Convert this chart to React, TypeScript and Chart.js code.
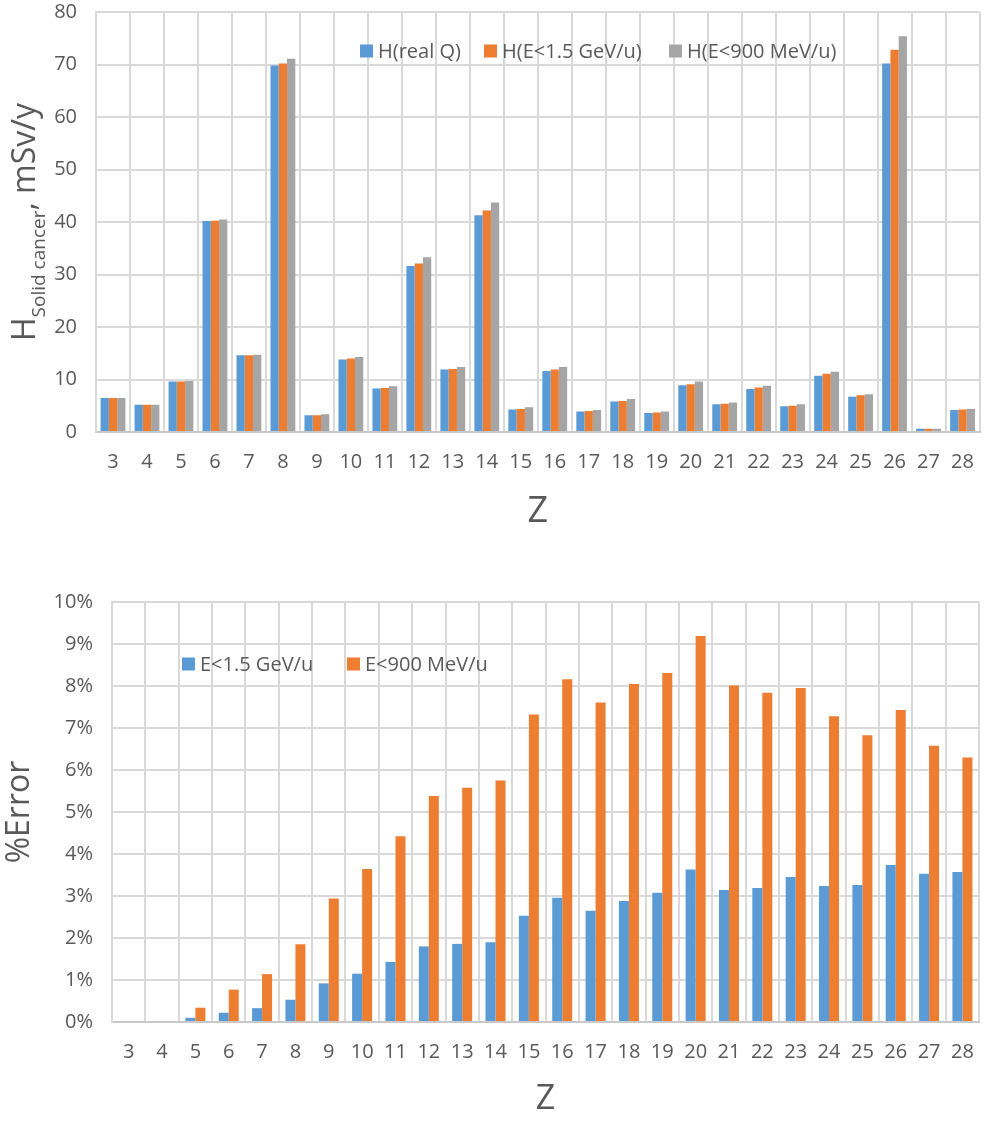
import React, { useEffect, useRef } from "react";
import { Chart, registerables } from "chart.js";

Chart.register(...registerables);

// ---------- data ----------
const zLabels = ["3", "4", "5", "6", "7", "8", "9", "10", "11", "12", "13", "14", "15", "16", "17", "18", "19", "20", "21", "22", "23", "24", "25", "26", "27", "28"];

const hRealQ = [6.5, 5.2, 9.6, 40.2, 14.6, 69.8, 3.2, 13.8, 8.3, 31.6, 11.9, 41.3, 4.3, 11.6, 3.9, 5.8, 3.6, 8.9, 5.3, 8.2, 4.9, 10.7, 6.7, 70.2, 0.6, 4.2];
const hE15 = [6.5, 5.2, 9.6, 40.25, 14.6, 70.2, 3.2, 14.0, 8.4, 32.1, 12.0, 42.2, 4.4, 11.9, 4.0, 5.9, 3.7, 9.1, 5.4, 8.5, 5.0, 11.1, 7.0, 72.8, 0.6, 4.3];
const hE900 = [6.5, 5.2, 9.7, 40.5, 14.7, 71.1, 3.4, 14.3, 8.7, 33.3, 12.4, 43.7, 4.7, 12.4, 4.2, 6.3, 3.9, 9.6, 5.6, 8.8, 5.3, 11.5, 7.2, 75.4, 0.6, 4.4];
const hYTicks = [0, 10, 20, 30, 40, 50, 60, 70, 80];

const errE15 = [0, 0, 0.1, 0.22, 0.33, 0.53, 0.92, 1.15, 1.43, 1.8, 1.86, 1.9, 2.53, 2.96, 2.65, 2.88, 3.08, 3.63, 3.14, 3.19, 3.45, 3.24, 3.26, 3.74, 3.53, 3.57];
const errE900 = [0, 0, 0.34, 0.77, 1.14, 1.85, 2.94, 3.64, 4.42, 5.38, 5.58, 5.75, 7.32, 8.16, 7.61, 8.05, 8.31, 9.19, 8.01, 7.84, 7.95, 7.28, 6.83, 7.43, 6.58, 6.3];
const errYTicks = [0, 1, 2, 3, 4, 5, 6, 7, 8, 9, 10];

// ---------- style ----------
const FONT = "'Open Sans', 'Noto Sans', sans-serif";
const BLUE = "#5b9bd5";
const ORANGE = "#ed7d31";
const GRAY = "#a5a5a5";
const TEXT = "#595959";
const GRID = "#d9d9d9";
const AXIS = "#c8c8c8";

Chart.defaults.font.family = FONT;
Chart.defaults.color = TEXT;

const boxLegend = {
  id: "boxLegend",
  afterDatasetsDraw(chart: any, _args: any, opts: any) {
    const { ctx } = chart;
    ctx.save();
    ctx.font = `${opts.fontSize}px ${FONT}`;
    ctx.textBaseline = "middle";
    ctx.textAlign = "left";
    chart.data.datasets.forEach((ds: any, i: number) => {
      const x = opts.xs[i];
      ctx.fillStyle = ds.backgroundColor;
      ctx.fillRect(x, opts.y - opts.box / 2, opts.box, opts.box);
      ctx.fillStyle = TEXT;
      ctx.fillText(ds.label, x + opts.box + opts.gap, opts.y + 1);
    });
    ctx.restore();
  },
};

const subTitle = {
  id: "subTitle",
  afterDraw(chart: any, _args: any, opts: any) {
    if (!opts || !opts.main) return;
    const { ctx, chartArea } = chart;
    const cy = (chartArea.top + chartArea.bottom) / 2;
    const mainF = `${opts.mainSize}px ${FONT}`;
    const subF = `${opts.subSize}px ${FONT}`;
    ctx.save();
    ctx.font = mainF;
    const w1 = ctx.measureText(opts.main).width;
    const w3 = ctx.measureText(opts.after).width;
    ctx.font = subF;
    const w2 = ctx.measureText(opts.sub).width;
    const total = w1 + w2 + w3;
    ctx.translate(opts.x, cy);
    ctx.rotate(-Math.PI / 2);
    ctx.fillStyle = TEXT;
    ctx.textBaseline = "alphabetic";
    ctx.textAlign = "left";
    let x = -total / 2;
    ctx.font = mainF;
    ctx.fillText(opts.main, x, 0);
    x += w1;
    ctx.font = subF;
    ctx.fillText(opts.sub, x, opts.subShift);
    x += w2;
    ctx.font = mainF;
    ctx.fillText(opts.after, x, 0);
    ctx.restore();
  },
};

// top canvas is shifted up by TOP_SHIFT so that the plot area starts at y=12
const TOP_SHIFT = 20;

function topConfig(): any {
  return {
    type: "bar",
    data: {
      labels: zLabels,
      datasets: [
        { label: "H(real Q)", data: hRealQ, backgroundColor: BLUE },
        { label: "H(E<1.5 GeV/u)", data: hE15, backgroundColor: ORANGE },
        { label: "H(E<900 MeV/u)", data: hE900, backgroundColor: GRAY },
      ],
    },
    plugins: [boxLegend, subTitle],
    options: {
      responsive: false,
      animation: false,
      devicePixelRatio: 1,
      layout: { padding: { top: 12 + TOP_SHIFT, right: 2, left: 0, bottom: 0 }, autoPadding: false },
      datasets: { bar: { categoryPercentage: 0.73, barPercentage: 1.0, borderWidth: 0 } },
      plugins: {
        legend: { display: false },
        tooltip: { enabled: false },
        boxLegend: { xs: [360, 484, 669], y: 51 + TOP_SHIFT, box: 13, gap: 5, fontSize: 20 },
        subTitle: { main: "H", sub: "Solid cancer", after: ", mSv/y", mainSize: 32, subSize: 19, subShift: 10, x: 35 },
      },
      scales: {
        x: {
          grid: { color: GRID, lineWidth: 2, drawTicks: false, offset: true },
          border: { color: AXIS, width: 2 },
          ticks: { font: { size: 20 }, color: TEXT, padding: 18, maxRotation: 0, autoSkip: false },
          title: { display: true, text: "Z", font: { size: 36 }, color: TEXT, padding: { top: 0, bottom: 7 } },
          afterFit: (s: any) => { s.height = 108; },
        },
        y: {
          min: 0,
          max: 80,
          grid: { color: GRID, lineWidth: 2, drawTicks: false },
          border: { color: GRID, width: 2 },
          ticks: { font: { size: 20 }, color: TEXT, padding: 19 },
          afterBuildTicks: (s: any) => { s.ticks = hYTicks.map((v) => ({ value: v })); },
          afterFit: (s: any) => { s.width = 96; },
        },
      },
    },
  };
}

function bottomConfig(): any {
  return {
    type: "bar",
    data: {
      labels: zLabels,
      datasets: [
        { label: "E<1.5 GeV/u", data: errE15, backgroundColor: BLUE },
        { label: "E<900 MeV/u", data: errE900, backgroundColor: ORANGE },
      ],
    },
    plugins: [boxLegend],
    options: {
      responsive: false,
      animation: false,
      devicePixelRatio: 1,
      layout: { padding: { top: 42, right: 7, left: 0, bottom: 0 }, autoPadding: false },
      datasets: { bar: { categoryPercentage: 0.6, barPercentage: 1.0, borderWidth: 0 } },
      plugins: {
        legend: { display: false },
        tooltip: { enabled: false },
        boxLegend: { xs: [182, 347], y: 104, box: 13, gap: 5, fontSize: 20 },
      },
      scales: {
        x: {
          grid: { color: GRID, lineWidth: 2, drawTicks: false, offset: true },
          border: { color: AXIS, width: 2 },
          ticks: { font: { size: 20 }, color: TEXT, padding: 18, maxRotation: 0, autoSkip: false },
          title: { display: true, text: "Z", font: { size: 34 }, color: TEXT, padding: { top: 0, bottom: 4 } },
          afterFit: (s: any) => { s.height = 102; },
        },
        y: {
          min: 0,
          max: 10,
          grid: { color: GRID, lineWidth: 2, drawTicks: false },
          border: { color: GRID, width: 2 },
          ticks: { font: { size: 20 }, color: TEXT, padding: 19, callback: (v: any) => `${v}%` },
          afterBuildTicks: (s: any) => { s.ticks = errYTicks.map((v) => ({ value: v })); },
          title: { display: true, text: "%Error", font: { size: 32 }, color: TEXT, padding: { top: 1, bottom: 0 } },
          afterFit: (s: any) => { s.width = 112; },
        },
      },
    },
  };
}

function ChartBox({ make, top, height }: { make: () => any; top: number; height: number }) {
  const ref = useRef<HTMLCanvasElement>(null);
  useEffect(() => {
    const chart = new Chart(ref.current as HTMLCanvasElement, make());
    return () => chart.destroy();
  }, []);
  return (
    <div style={{ position: "absolute", left: 0, top, width: 992, height }}>
      <canvas ref={ref} width={992} height={height} style={{ display: "block", width: 992, height }} />
    </div>
  );
}

export default function App() {
  return (
    <div style={{ position: "absolute", left: 0, top: 0, width: 992, height: 1124, background: "#fff", overflow: "hidden" }}>
      <ChartBox make={topConfig} top={-TOP_SHIFT} height={540 + TOP_SHIFT} />
      <ChartBox make={bottomConfig} top={560} height={564} />
    </div>
  );
}
